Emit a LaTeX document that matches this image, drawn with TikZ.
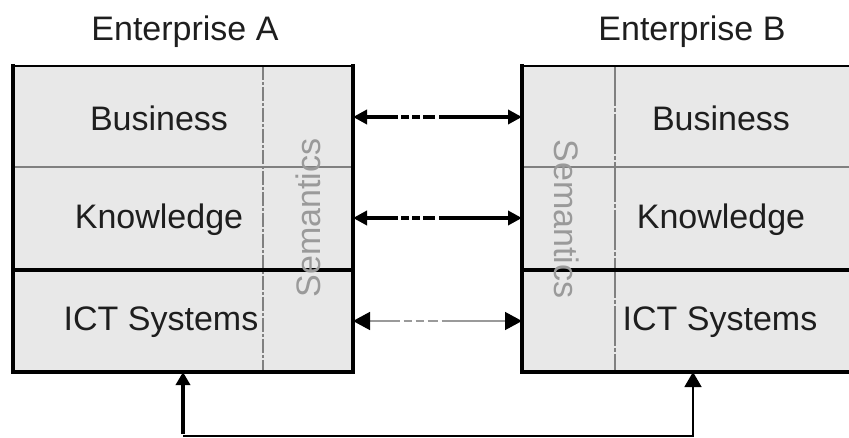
\documentclass[tikz,border=0pt]{standalone}
\usepackage{fontspec}
\setmainfont{Liberation Sans}
\usetikzlibrary{arrows.meta}

\definecolor{cellfill}{HTML}{E8E8E8}
\definecolor{divgray}{HTML}{808080}
\definecolor{semgray}{HTML}{9A9A9A}
\definecolor{labelink}{HTML}{1E1E1E}

\tikzset{
  layer/.style={minimum width=#1, minimum height=102pt, inner sep=0pt, outer sep=0pt},
  label/.style={font=\fontsize{34}{40}\selectfont, text=labelink, inner sep=0pt},
  semlabel/.style={font=\fontsize{34}{40}\selectfont, text=semgray, inner sep=0pt},
  heavylink/.style={line width=4pt, {Triangle[length=14pt,width=14pt]}-{Triangle[length=14pt,width=14pt]},
     dash pattern=on 32pt off 3pt on 8pt off 3pt on 8pt off 3pt on 12pt off 4pt on 200pt},
  lightlink/.style={line width=1.5pt, draw=semgray, {Triangle[length=17pt,width=18pt,fill=black,color=black]}-{Triangle[length=17pt,width=18pt,fill=black,color=black]},
     dash pattern=on 30pt off 4pt on 8pt off 4pt on 8pt off 4pt on 10pt off 4pt on 200pt},
  thinrule/.style={line width=1.5pt, draw=divgray},
  heavyrule/.style={line width=4pt, draw=black},
}

\begin{document}
\begin{tikzpicture}[x=1pt,y=-1pt]
\useasboundingbox (0,0) rectangle (849,438);

% grey bodies of the two enterprises
\fill[cellfill] (13,66) rectangle (353,372);
\fill[cellfill] (522,66) rectangle (849,372);

% layer bands (anchors for the links)
\node[layer=340pt] (bizA) at (183,117) {};
\node[layer=340pt] (knoA) at (183,218) {};
\node[layer=340pt] (ictA) at (183,321) {};
\node[layer=327pt] (bizB) at (685.5,117) {};
\node[layer=327pt] (knoB) at (685.5,218) {};
\node[layer=327pt] (ictB) at (685.5,321) {};
\node[minimum width=340pt, minimum height=306pt, inner sep=0pt, outer sep=0pt] (boxA) at (183,219) {};
\node[minimum width=327pt, minimum height=306pt, inner sep=0pt, outer sep=0pt] (boxB) at (685.5,219) {};

% semantics columns
\draw[divgray, line width=2pt, dash pattern=on 14pt off 2pt on 3pt off 2pt] (263,66) -- (263,372);
\draw[divgray, line width=1.3pt, dash pattern=on 40pt off 2pt on 4pt off 2pt] (615,66) -- (615,372);

% layer separators
\draw[thinrule] (13,167) -- (353,167);
\draw[thinrule] (522,167) -- (849,167);
\draw[heavyrule] (13,270) -- (353,270);
\draw[heavyrule] (522,270) -- (849,270);

% outlines
\draw[line width=1.5pt] (12,66) -- (355,66);
\draw[line width=1.5pt] (520,66) -- (849,66);
\draw[line width=4pt] (13,64.5) -- (13,374);
\draw[line width=3.5pt] (353,64.5) -- (353,374);
\draw[line width=4pt] (11,372) -- (355,372);
\draw[line width=4pt] (522,64.5) -- (522,374);
\draw[line width=4pt] (520,372) -- (849,372);

% headings
\node[label] (headA) at (185,32) {Enterprise A};
\node[label] (headB) at (692,32) {Enterprise B};

% layer names
\node[label] (tbA) at (159,118) {Business};
\node[label] (tkA) at (159,220) {Knowledge};
\node[label] (tiA) at (161,322) {ICT Systems};
\node[label] (tbB) at (721,118) {Business};
\node[label] (tkB) at (721,220) {Knowledge};
\node[label] (tiB) at (720,322) {ICT Systems};

\node[semlabel, rotate=90] (semA) at (308,218) {Semantics};
\node[semlabel, rotate=-90] (semB) at (567,219) {Semantics};

% links between the layers
\draw[heavylink] (bizA.east) -- (bizB.west);
\draw[heavylink] (knoA.east) -- (knoB.west);
\draw[lightlink] (ictA.east) -- (ictB.west);

% loop underneath
\coordinate (loopA) at (183,436);
\coordinate (loopB) at (693,436);
\draw[line width=4pt, -{Triangle[length=13pt,width=14pt]}] ([yshift=2pt]loopA) -- (boxA.south -| loopA);
\draw[line width=1.5pt, -{Triangle[length=15pt,width=17pt]}] (loopA) -- (loopB) -- (boxB.south -| loopB);
\end{tikzpicture}
\end{document}
